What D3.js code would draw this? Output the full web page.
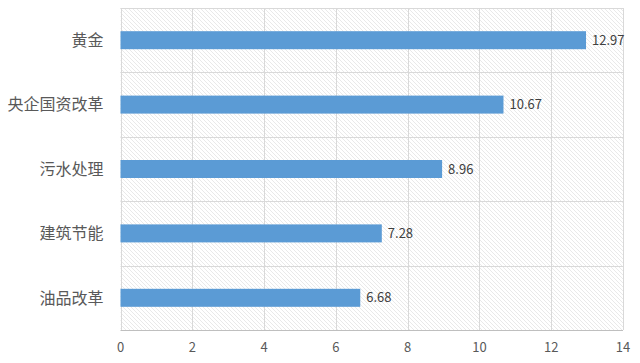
<!DOCTYPE html>
<html>
<head>
<meta charset="utf-8">
<script src="https://cdn.jsdelivr.net/npm/d3@7/dist/d3.min.js"></script>
<style>
  body { margin: 0; background: #fff; }
  text { font-family: "Noto Sans CJK SC", "Noto Sans", sans-serif; }
</style>
</head>
<body>
<div id="chart"></div>
<script>
const categories = ["黄金", "央企国资改革", "污水处理", "建筑节能", "油品改革"];
const values = [12.97, 10.67, 8.96, 7.28, 6.68];
const xTicks = [0, 2, 4, 6, 8, 10, 12, 14];

const width = 640, height = 363;
const margin = { top: 8, right: 17, bottom: 33, left: 120.5 };

const svg = d3.select("#chart").append("svg")
  .attr("width", width)
  .attr("height", height);

// excel style light downward diagonal hatch
const defs = svg.append("defs");
const pat = defs.append("pattern")
  .attr("id", "hatch")
  .attr("patternUnits", "userSpaceOnUse")
  .attr("width", 4)
  .attr("height", 4);
pat.append("rect").attr("width", 4).attr("height", 4).attr("fill", "#fff");
pat.append("path")
  .attr("d", "M-1,-1 L5,5 M-1,3 L1,5 M3,-1 L5,1")
  .attr("stroke", "#e6e6e6")
  .attr("stroke-width", 0.9);

const x = d3.scaleLinear()
  .domain([0, 14])
  .range([margin.left, width - margin.right]);

const y = d3.scaleBand()
  .domain(categories)
  .range([margin.top, height - margin.bottom])
  .paddingInner(0)
  .paddingOuter(0);

// plot background
svg.append("rect")
  .attr("x", x(0))
  .attr("y", margin.top)
  .attr("width", x(14) - x(0))
  .attr("height", height - margin.bottom - margin.top)
  .attr("fill", "url(#hatch)");

// vertical gridlines
svg.append("g")
  .selectAll("line")
  .data(xTicks)
  .join("line")
  .attr("x1", d => Math.round(x(d)) + 0.5)
  .attr("x2", d => Math.round(x(d)) + 0.5)
  .attr("y1", margin.top)
  .attr("y2", height - margin.bottom)
  .attr("stroke", "#d9d9d9");

// horizontal lines between categories
const bounds = categories.map(c => y(c)).concat([height - margin.bottom]);
svg.append("g")
  .selectAll("line")
  .data(bounds)
  .join("line")
  .attr("x1", x(0))
  .attr("x2", x(14))
  .attr("y1", d => Math.round(d) + 0.5)
  .attr("y2", d => Math.round(d) + 0.5)
  .attr("stroke", (d, i) => i === bounds.length - 1 ? "#bfbfbf" : "#d9d9d9");

// bars
const barH = 18;
svg.append("g")
  .selectAll("rect")
  .data(values)
  .join("rect")
  .attr("x", x(0))
  .attr("y", (d, i) => y(categories[i]) + y.bandwidth() / 2 - barH / 2)
  .attr("width", d => x(d) - x(0))
  .attr("height", barH)
  .attr("fill", "#5b9bd5");

// value labels
svg.append("g")
  .selectAll("text")
  .data(values)
  .join("text")
  .attr("x", d => x(d) + 6)
  .attr("y", (d, i) => y(categories[i]) + y.bandwidth() / 2)
  .attr("dy", "0.35em")
  .attr("font-size", 13)
  .attr("fill", "#404040")
  .text(d => d.toFixed(2));

// category labels
svg.append("g")
  .selectAll("text")
  .data(categories)
  .join("text")
  .attr("x", x(0) - 17)
  .attr("y", d => y(d) + y.bandwidth() / 2)
  .attr("dy", "0.36em")
  .attr("text-anchor", "end")
  .attr("font-size", 16)
  .attr("fill", "#595959")
  .text(d => d);

// x axis tick labels
svg.append("g")
  .selectAll("text")
  .data(xTicks)
  .join("text")
  .attr("x", d => x(d))
  .attr("y", height - margin.bottom + 22)
  .attr("text-anchor", "middle")
  .attr("font-size", 13)
  .attr("fill", "#595959")
  .text(d => d);
</script>
</body>
</html>
